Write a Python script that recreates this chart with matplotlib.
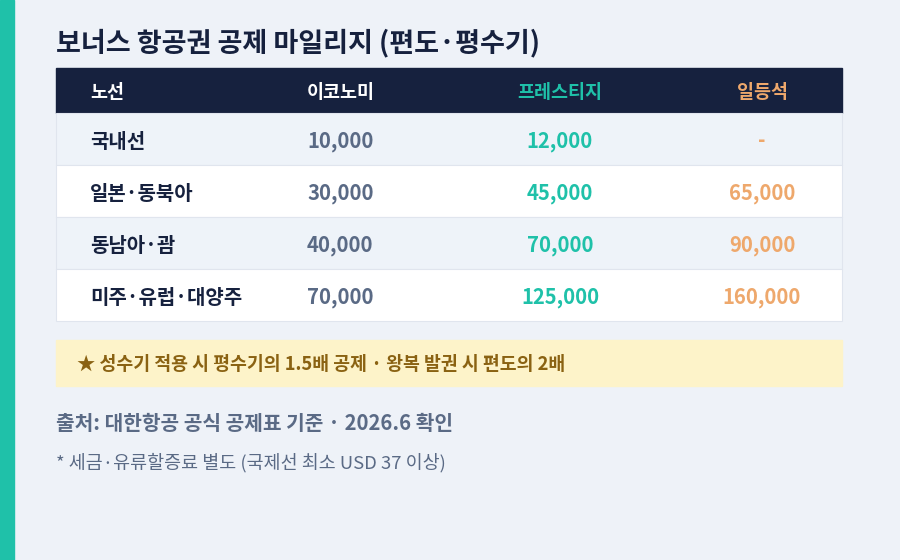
import matplotlib
matplotlib.use('Agg')
import matplotlib.pyplot as plt
from matplotlib.patches import Rectangle

plt.rcParams['font.family'] = ['Noto Sans CJK KR', 'DejaVu Sans']

TITLE = '보너스 항공권 공제 마일리지 (편도·평수기)'
headers = ['노선', '이코노미', '프레스티지', '일등석']
routes = ['국내선', '일본·동북아', '동남아·괌', '미주·유럽·대양주']
economy = ['10,000', '30,000', '40,000', '70,000']
prestige = ['12,000', '45,000', '70,000', '125,000']
first = ['-', '65,000', '90,000', '160,000']
NOTE = '★ 성수기 적용 시 평수기의 1.5배 공제 · 왕복 발권 시 편도의 2배'
SOURCE = '출처: 대한항공 공식 공제표 기준 · 2026.6 확인'
FOOT = '* 세금·유류할증료 별도 (국제선 최소 USD 37 이상)'

BG = '#eef2f8'
NAVY = '#16213e'
TEAL = '#1fc1a9'
ORANGE = '#eea86c'
SLATE = '#5a6a85'

fig = plt.figure(figsize=(9, 5.6), dpi=100)
fig.patch.set_facecolor(BG)
ax = fig.add_axes([0, 0, 1, 1])
ax.set_xlim(0, 900); ax.set_ylim(560, 0); ax.axis('off')

ax.add_patch(Rectangle((0, 0), 14, 560, color=TEAL))
ax.text(56, 43, TITLE, fontsize=19.5, fontweight='bold', color=NAVY, va='center')

# header band
ax.add_patch(Rectangle((56, 68), 786, 45, color=NAVY))
hx = [90, 307, 560, 762]
ha = ['left', 'left', 'center', 'center']
hc = ['white', 'white', TEAL, ORANGE]
for x, h, a, c in zip(hx, headers, ha, hc):
    ax.text(x, 92, h, fontsize=13.3, fontweight='bold', color=c, ha=a, va='center')

row_h = 52
for i in range(len(routes)):
    y0 = 113 + i * row_h
    fc = '#eef3f9' if i % 2 == 0 else 'white'
    ax.add_patch(Rectangle((56, y0), 786, row_h, facecolor=fc, edgecolor='#e0e5ee', lw=0.8))
    yc = y0 + row_h / 2 + 2
    ax.text(90, yc, routes[i], fontsize=14.4, fontweight='bold', color=NAVY, va='center')
    ax.text(307, yc, economy[i], fontsize=14.6, fontweight='bold', color=SLATE, va='center')
    ax.text(560, yc, prestige[i], fontsize=14.6, fontweight='bold', color=TEAL, va='center', ha='center')
    ax.text(762, yc, first[i], fontsize=14.6, fontweight='bold', color=ORANGE, va='center', ha='center')

ax.add_patch(Rectangle((56, 340), 786, 46, color='#fdf3c9'))
ax.text(77, 364, NOTE, fontsize=13.2, fontweight='bold', color='#8a6212', va='center')

ax.text(56, 423, SOURCE, fontsize=14.6, fontweight='bold', color=SLATE, va='center')
ax.text(56, 463, FOOT, fontsize=13.3, color=SLATE, va='center')

fig.savefig('out.png', dpi=100, facecolor=BG)
